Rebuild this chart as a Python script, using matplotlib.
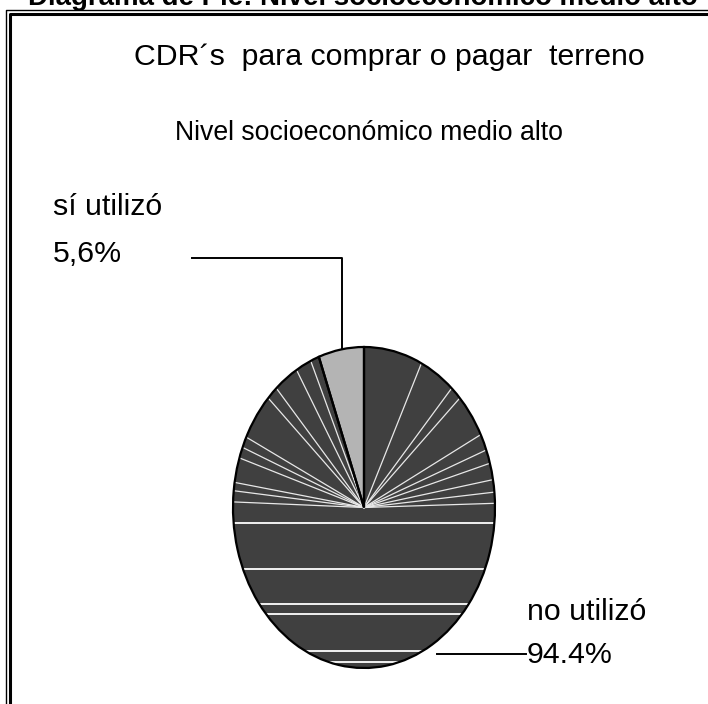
import matplotlib
matplotlib.use('Agg')
import numpy as np
import matplotlib.pyplot as plt

plt.rcParams['font.family'] = ['Liberation Sans', 'DejaVu Sans']

# slice data
labels = ['sí utilizó', 'no utilizó']
pct_text = ['5,6%', '94.4%']
values = [5.6, 94.4]
colors = ['#b4b4b4', '#404040']

# light streaks inside the dark slice (radial angles in degrees, horizontal levels)
streak_angles = [1.5, 5.5, 10, 16, 21, 27, 43, 48, 64,
                 114, 121, 132, 137, 154, 158, 162, 171, 174, 178]
streak_levels = [-0.097, -0.383, -0.601, -0.664, -0.894, -0.963]

W, H = 708, 704
fig = plt.figure(figsize=(W / 100, H / 100), dpi=100)

# full-page axes in pixel units for frame, titles and labels
ax0 = fig.add_axes([0, 0, 1, 1])
ax0.set_xlim(0, W)
ax0.set_ylim(H, 0)
ax0.axis('off')

# double frame (thin outer, thick inner)
ax0.plot([5.5, 5.5, W + 5], [H + 5, 9.5, 9.5], color='black', lw=1.0, solid_capstyle='butt')
ax0.plot([10, 10, W + 5], [H + 5, 13.5, 13.5], color='black', lw=2.2, solid_capstyle='butt')

ax0.text(28, 5, 'Diagrama de Pie: Nivel socioeconómico medio alto',
         fontsize=19.9, fontweight='bold', ha='left', va='baseline')
ax0.text(389, 65, 'CDR´s  para comprar o pagar  terreno', fontsize=21.8,
         ha='center', va='baseline')
ax0.text(369, 140, 'Nivel socioeconómico medio alto', fontsize=19.2,
         ha='center', va='baseline')

# pie drawn as an ellipse in its own stretched axes
axp = fig.add_axes([233 / W, 1 - 668 / H, 262 / W, 321 / H])
wedges, _ = axp.pie(values, colors=colors, startangle=90, counterclock=True,
                    radius=1, wedgeprops=dict(linewidth=0))
dark = wedges[1]
for a in streak_angles:
    t = np.deg2rad(a)
    axp.plot([0, np.cos(t)], [0, np.sin(t)], color='#e8e8e8', lw=0.9,
             clip_path=dark, zorder=3)
for lv in streak_levels:
    axp.plot([-1, 1], [lv, lv], color='white', lw=1.3, clip_path=dark, zorder=3)
# outlines on top of the streaks
axp.pie(values, startangle=90, counterclock=True, radius=1,
        wedgeprops=dict(fill=False, edgecolor='black', linewidth=1.6, zorder=4))
axp.set_aspect('auto')
axp.set_xlim(-1, 1)
axp.set_ylim(-1, 1)
axp.axis('off')

# labels with leader lines
ax0.text(53, 215, labels[0], fontsize=21.8, ha='left', va='baseline')
ax0.text(53, 262, pct_text[0], fontsize=21.8, ha='left', va='baseline')
ax0.plot([192, 342, 342], [258, 258, 349], color='black', lw=1.4)

ax0.text(527, 620, labels[1], fontsize=21.8, ha='left', va='baseline')
ax0.text(527, 663, pct_text[1], fontsize=21.8, ha='left', va='baseline')
ax0.plot([437, 526], [654, 654], color='black', lw=1.4)

fig.savefig('out.png', dpi=100)
